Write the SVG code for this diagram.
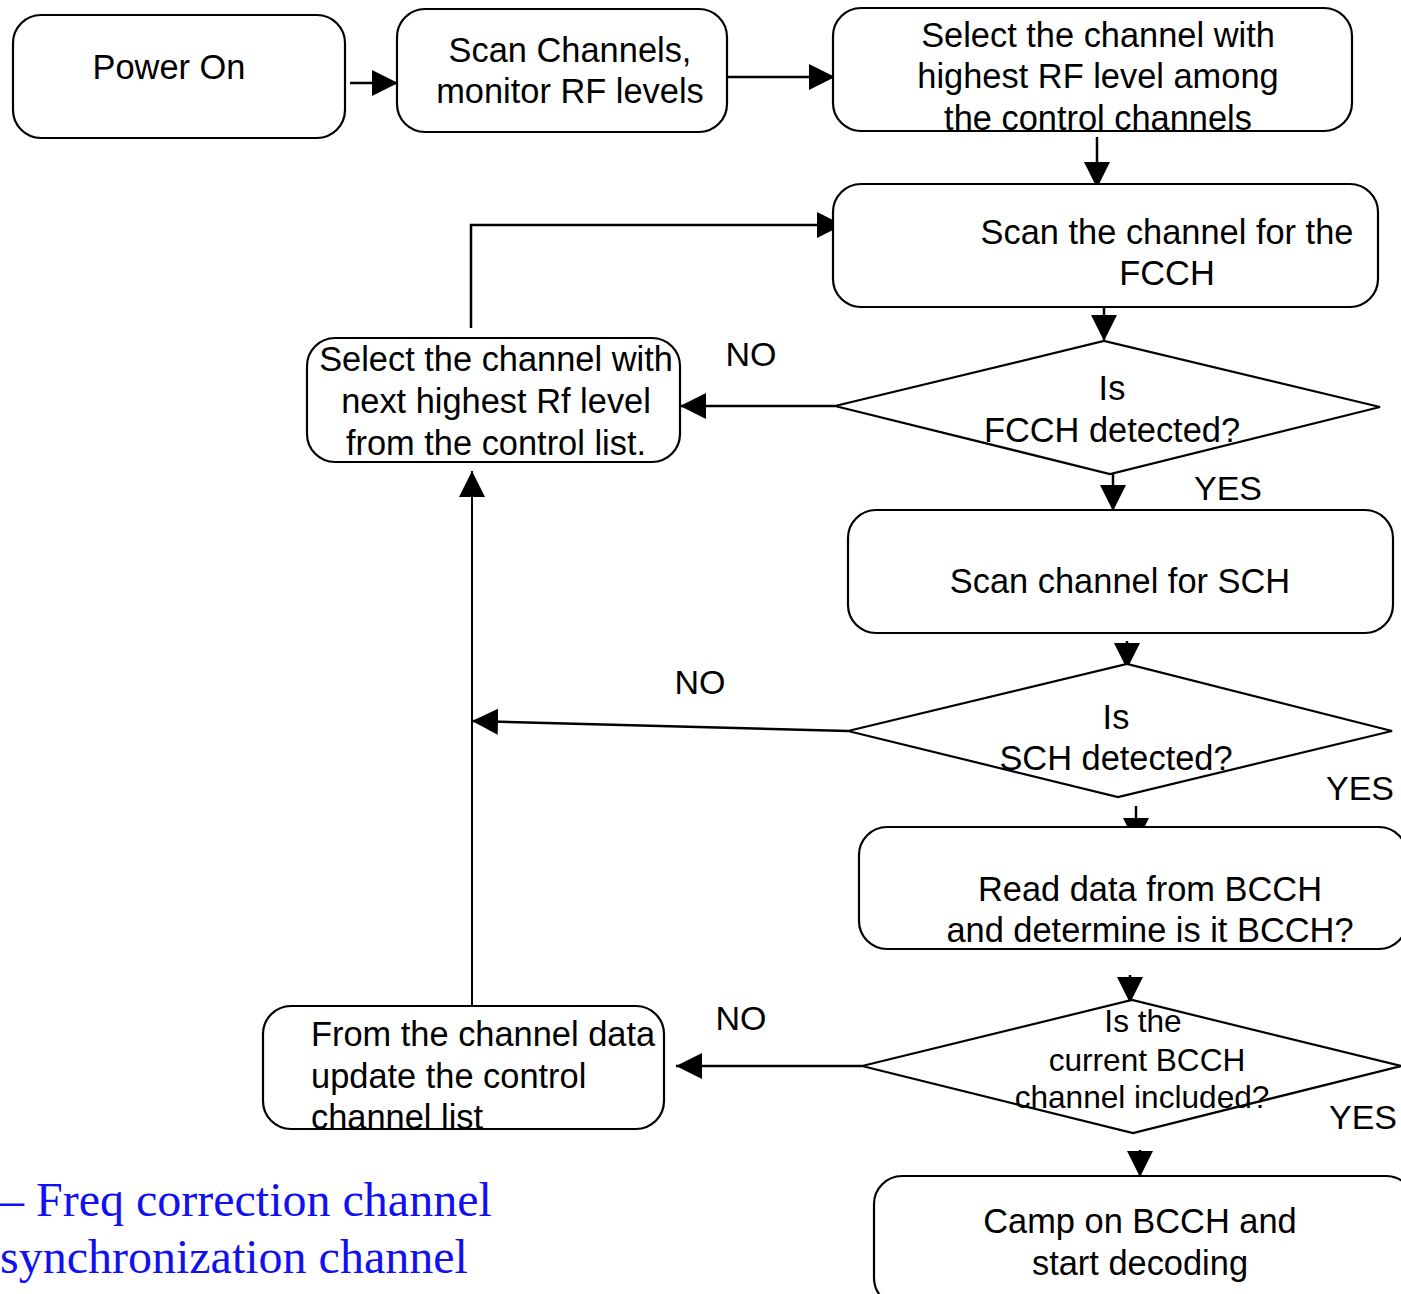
<svg xmlns="http://www.w3.org/2000/svg" width="1401" height="1294" viewBox="0 0 1401 1294">
  <style>
    .box { fill: #ffffff; stroke: #000000; stroke-width: 2.2; }
    .dia { fill: #ffffff; stroke: #000000; stroke-width: 2.2; }
    .t { font-family: "Liberation Sans", Arial, sans-serif; font-size: 34.4px; fill: #000000; text-anchor: middle; }
    .tl { text-anchor: start; }
    .ts { font-size: 31.6px; }
    .lbl { font-family: "Liberation Sans", Arial, sans-serif; font-size: 34px; fill: #000000; text-anchor: middle; }
    .note { font-family: "Liberation Serif", "Times New Roman", serif; font-size: 48px; fill: #1010f0; }
    .conn path { fill: none; stroke: #000000; stroke-width: 2.5; }
  </style>
  <defs>
    <marker id="ah" markerUnits="userSpaceOnUse" markerWidth="28" markerHeight="28" refX="26" refY="13" orient="auto">
      <path d="M0,0 L26,13 L0,26 Z" fill="#000000"/>
    </marker>
  </defs>
  <rect width="1401" height="1294" fill="#ffffff"/>

  <!-- flow connectors -->
  <g id="connectors" class="conn">
    <path d="M350,83 H398" marker-end="url(#ah)"/>
    <path d="M727,77 H835" marker-end="url(#ah)"/>
    <path d="M1097,137 V188" marker-end="url(#ah)"/>
    <path d="M1104,307 V341" marker-end="url(#ah)"/>
    <path d="M835,406 H680" marker-end="url(#ah)"/>
    <path d="M471,328 V225 H843" marker-end="url(#ah)"/>
    <path d="M1113,474 V511" marker-end="url(#ah)"/>
    <path d="M1127,641 V669" marker-end="url(#ah)"/>
    <path d="M848,731 L472,721" marker-end="url(#ah)"/>
    <path d="M1136,806 V844" marker-end="url(#ah)"/>
    <path d="M1130,975 V1003" marker-end="url(#ah)"/>
    <path d="M862,1066 H676" marker-end="url(#ah)"/>
    <path d="M472,1006 V471" marker-end="url(#ah)" style="stroke-width:2"/>
    <path d="M1140,1150 V1177" marker-end="url(#ah)"/>
  </g>

  <g id="power-on">
    <rect class="box" x="13" y="15" width="332" height="123" rx="28"/>
    <text class="t" x="169" y="79">Power On</text>
  </g>

  <g id="scan-channels">
    <rect class="box" x="397" y="9" width="330" height="123" rx="28"/>
    <text class="t" x="570" y="62">Scan Channels,</text>
    <text class="t" x="570" y="103">monitor RF levels</text>
  </g>

  <g id="select-highest">
    <rect class="box" x="833" y="8" width="519" height="123" rx="28"/>
    <text class="t" x="1098" y="47">Select the channel with</text>
    <text class="t" x="1098" y="88">highest RF level among</text>
    <text class="t" x="1098" y="130">the control channels</text>
  </g>

  <g id="scan-fcch">
    <rect class="box" x="833" y="184" width="545" height="123" rx="28"/>
    <text class="t" x="1167" y="244">Scan the channel for the</text>
    <text class="t" x="1167" y="285">FCCH</text>
  </g>

  <g id="fcch-detected">
    <polygon class="dia" points="835,406 1104,341 1380,407 1110,474"/>
    <text class="t" x="1112" y="400">Is</text>
    <text class="t" x="1112" y="442">FCCH detected?</text>
  </g>

  <g id="select-next">
    <rect class="box" x="307" y="338" width="373" height="124" rx="28"/>
    <text class="t" x="496" y="371">Select the channel with</text>
    <text class="t" x="496" y="413">next highest Rf level</text>
    <text class="t" x="496" y="455">from the control list.</text>
  </g>

  <g id="scan-sch">
    <rect class="box" x="848" y="510" width="545" height="123" rx="28"/>
    <text class="t" x="1120" y="593">Scan channel for SCH</text>
  </g>

  <g id="sch-detected">
    <polygon class="dia" points="848,731 1127,664 1392,731 1118,797"/>
    <text class="t" x="1116" y="729">Is</text>
    <text class="t" x="1116" y="770">SCH detected?</text>
  </g>

  <g id="read-bcch">
    <rect class="box" x="859" y="827" width="548" height="122" rx="28"/>
    <text class="t" x="1150" y="901">Read data from BCCH</text>
    <text class="t" x="1150" y="942">and determine is it BCCH?</text>
  </g>

  <g id="bcch-included">
    <polygon class="dia" points="862,1066 1132,1000 1401,1066 1133,1133"/>
    <text class="t ts" x="1143" y="1032">Is the</text>
    <text class="t ts" x="1147" y="1071">current BCCH</text>
    <text class="t ts" x="1142" y="1108">channel included?</text>
  </g>

  <g id="update-list">
    <rect class="box" x="263" y="1006" width="401" height="123" rx="28"/>
    <text class="t tl" x="311" y="1046">From the channel data</text>
    <text class="t tl" x="311" y="1088">update the control</text>
    <text class="t tl" x="311" y="1129">channel list</text>
  </g>

  <g id="camp-bcch">
    <rect class="box" x="874" y="1176" width="540" height="130" rx="28"/>
    <text class="t" x="1140" y="1233">Camp on BCCH and</text>
    <text class="t" x="1140" y="1275">start decoding</text>
  </g>

  <!-- branch labels -->
  <g id="labels">
    <text class="lbl" x="751" y="366">NO</text>
    <text class="lbl" x="1228" y="500">YES</text>
    <text class="lbl" x="700" y="694">NO</text>
    <text class="lbl" x="1360" y="800">YES</text>
    <text class="lbl" x="741" y="1030">NO</text>
    <text class="lbl" x="1363" y="1129">YES</text>
  </g>

  <!-- legend notes -->
  <g id="notes">
    <text class="note" x="0" y="1216">– Freq correction channel</text>
    <text class="note" x="0" y="1273">synchronization channel</text>
  </g>
</svg>
